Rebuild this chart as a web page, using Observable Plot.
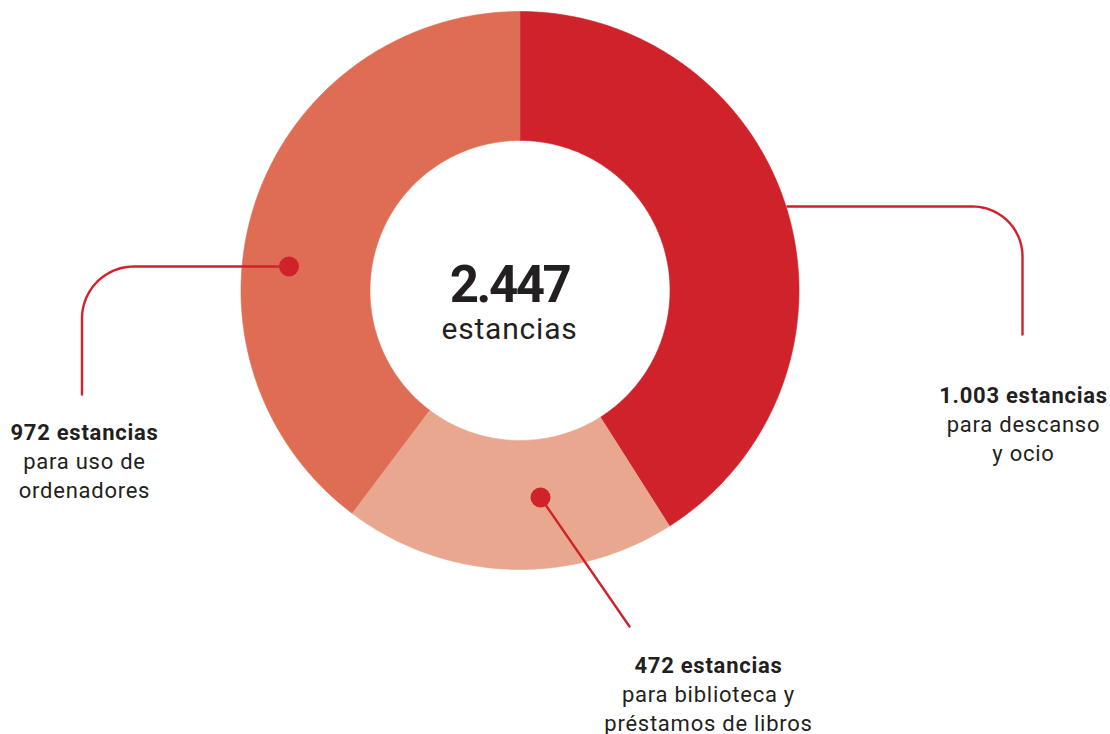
<!DOCTYPE html>
<html>
<head>
<meta charset="utf-8">
<script src="https://cdn.jsdelivr.net/npm/d3@7"></script>
<script src="https://cdn.jsdelivr.net/npm/@observablehq/plot@0.6"></script>
<style>
  html, body { margin: 0; padding: 0; background: #ffffff; }
  #chart svg { display: block; }
</style>
</head>
<body>
<div id="chart"></div>
<script>
// ---- data ----
const categories = ["descanso y ocio", "biblioteca y préstamos de libros", "uso de ordenadores"];
const values = [1003, 472, 972];
const unitLabel = "estancias";
const descriptions = [
  ["para descanso", "y ocio"],
  ["para biblioteca y", "préstamos de libros"],
  ["para uso de", "ordenadores"]
];
const colors = ["#d0222a", "#e9a78f", "#df6d54"];

// ---- layout ----
const W = 1110, H = 734;
const cx = 519.5, cy = 290, R = 279, r0 = 150;
const textCx = 509;
const red = "#d0222a", ink = "#231f20";
const esLocale = d3.formatLocale({decimal: ",", thousands: ".", grouping: [3], currency: ["", " €"]});
const fmt = esLocale.format(",d");
const total = d3.sum(values);

// slice polygons computed from pie angles
const pie = d3.pie().sort(null).value(d => d)(values);
const polyPts = [];
pie.forEach((p, i) => {
  const n = Math.max(8, Math.ceil((p.endAngle - p.startAngle) / (Math.PI / 360)));
  for (let k = 0; k <= n; k++) {
    const a = p.startAngle + (p.endAngle - p.startAngle) * k / n;
    polyPts.push({cat: categories[i], x: cx + R * Math.sin(a), y: cy - R * Math.cos(a)});
  }
  for (let k = n; k >= 0; k--) {
    const a = p.startAngle + (p.endAngle - p.startAngle) * k / n;
    polyPts.push({cat: categories[i], x: cx + r0 * Math.sin(a), y: cy - r0 * Math.cos(a)});
  }
});

// rounded elbow leader
function elbow(start, corner, end, rad, id) {
  const [sx, sy] = start, [kx, ky] = corner, [ex, ey] = end;
  const l1 = Math.hypot(kx - sx, ky - sy), l2 = Math.hypot(ex - kx, ey - ky);
  const u1 = [(kx - sx) / l1, (ky - sy) / l1], u2 = [(ex - kx) / l2, (ey - ky) / l2];
  const p1 = [kx - rad * u1[0], ky - rad * u1[1]];
  const p2 = [kx + rad * u2[0], ky + rad * u2[1]];
  const c = [p1[0] + rad * u2[0], p1[1] + rad * u2[1]];
  let a1 = Math.atan2(p1[1] - c[1], p1[0] - c[0]);
  let a2 = Math.atan2(p2[1] - c[1], p2[0] - c[0]);
  let d = a2 - a1;
  while (d > Math.PI) d -= 2 * Math.PI;
  while (d < -Math.PI) d += 2 * Math.PI;
  const pts = [{id, x: sx, y: sy}];
  for (let k = 0; k <= 24; k++) {
    const a = a1 + d * k / 24;
    pts.push({id, x: c[0] + rad * Math.cos(a), y: c[1] + rad * Math.sin(a)});
  }
  pts.push({id, x: ex, y: ey});
  return pts;
}
const leaders = [
  ...elbow([787, 206], [1022, 206], [1022, 334], 50, 0),
  {id: 1, x: 540, y: 497}, {id: 1, x: 629, y: 626},
  ...elbow([288.5, 266], [81.5, 266], [81.5, 394], 52, 2)
];
const dots = [{x: 540, y: 497}, {x: 288.5, y: 266}];

const labelPos = [[1023, 402], [708, 672], [84, 439]];
const boldLabels = values.map((v, i) => ({x: labelPos[i][0], y: labelPos[i][1], t: `${fmt(v)} ${unitLabel}`}));
const descLabels = [];
descriptions.forEach((lines, i) => lines.forEach((t, j) => descLabels.push({x: labelPos[i][0], y: labelPos[i][1] + 29 * (j + 1), t})));

const chart = Plot.plot({
  width: W, height: H, margin: 0,
  x: {domain: [0, W], axis: null},
  y: {domain: [0, H], reverse: true, axis: null},
  color: {domain: categories, range: colors},
  style: {fontFamily: "Roboto, sans-serif", background: "#ffffff"},
  marks: [
    Plot.line(polyPts, {x: "x", y: "y", z: "cat", fill: "cat", stroke: "cat", strokeWidth: 0.6, curve: "linear"}),
    Plot.line(leaders, {x: "x", y: "y", z: "id", stroke: red, strokeWidth: 2.4, curve: "linear"}),
    Plot.dot(dots, {x: "x", y: "y", r: 10, fill: red, stroke: null}),
    Plot.text([fmt(total)], {x: () => textCx, y: () => 301, text: d => d, fontSize: 51, fontWeight: 700, fill: ink, lineAnchor: "bottom", textAnchor: "middle"}),
    Plot.text([unitLabel], {x: () => textCx, y: () => 338, text: d => d, fontSize: 30, fontWeight: 400, fill: ink, lineAnchor: "bottom", textAnchor: "middle"}),
    Plot.text(boldLabels, {x: "x", y: "y", text: "t", fontSize: 22, fontWeight: 700, fill: ink, lineAnchor: "bottom", textAnchor: "middle"}),
    Plot.text(descLabels, {x: "x", y: "y", text: "t", fontSize: 22, fontWeight: 400, fill: ink, lineAnchor: "bottom", textAnchor: "middle"})
  ]
});
// letter spacing tweaks to approximate the condensed/tracked original face
const textGroups = d3.select(chart).selectAll('g[aria-label="text"]').nodes();
const spacing = ["-2.5px", "0.8px", "0.75px", "0.75px"];
textGroups.forEach((g, i) => d3.select(g).style("letter-spacing", spacing[i]));
document.getElementById("chart").appendChild(chart);
</script>
</body>
</html>
